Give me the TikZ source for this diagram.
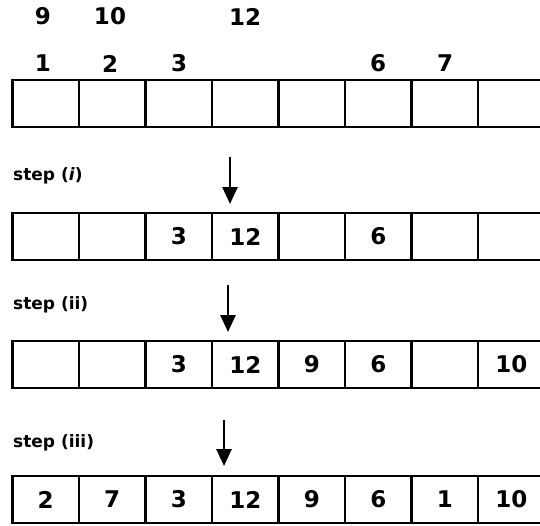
\documentclass[tikz,border=0pt]{standalone}
\usepackage{fontspec}
\setmainfont{DejaVu Sans}
\usetikzlibrary{arrows.meta}
\begin{document}
\begin{tikzpicture}[x=1pt,y=-1pt,
  cell/.style={draw, line width=2.8pt, minimum width=66.5pt, minimum height=47pt,
    inner sep=0pt, outer sep=0pt, anchor=north west,
    font=\bfseries\fontsize{23}{23}\selectfont},
  toplabel/.style={inner sep=0pt, font=\bfseries\fontsize{23}{23}\selectfont},
  steplabel/.style={inner sep=0pt, anchor=base west, font=\bfseries\fontsize{17}{17}\selectfont},
  downarrow/.style={line width=2.6pt, -{Triangle[width=15pt,length=17pt]}}]
\useasboundingbox (0,0) rectangle (540,525);
\clip (0,0) rectangle (540,525);
% top labels
\node[toplabel] (t9)  at (43,16.5) {9};
\node[toplabel] (t10) at (110,16.5) {10};
\node[toplabel] (t12) at (245,16.5) {12};
\node[toplabel] (t1)  at (43,63.5) {1};
\node[toplabel] (t2)  at (110,63.5) {2};
\node[toplabel] (t3)  at (179,63.5) {3};
\node[toplabel] (t6)  at (378,63.5) {6};
\node[toplabel] (t7)  at (445,63.5) {7};
% rows
\foreach \r/\top/\vals in {1/80/{,,,,,,,}, 2/213/{,,3,12,,6,,}, 3/341/{,,3,12,9,6,,10}, 4/476/{2,7,3,12,9,6,1,10}}{
  \foreach \v [count=\c] in \vals {
    \node[cell] (r\r c\c) at ({12.5+(\c-1)*66.5},\top) {\v};
  }
}
% step labels
\node[steplabel] (s1) at (13,180) {step (\textit{i})};
\node[steplabel] (s2) at (13,309) {step (ii)};
\node[steplabel] (s3) at (13,447) {step (iii)};
% arrows
\coordinate (a1s) at (230,157);
\coordinate (a1e) at (230,204);
\coordinate (a2s) at (228,285);
\coordinate (a2e) at (228,332);
\coordinate (a3s) at (224,420);
\coordinate (a3e) at (224,466);
\draw[downarrow] (a1s) -- (a1e);
\draw[downarrow] (a2s) -- (a2e);
\draw[downarrow] (a3s) -- (a3e);
\end{tikzpicture}
\end{document}
